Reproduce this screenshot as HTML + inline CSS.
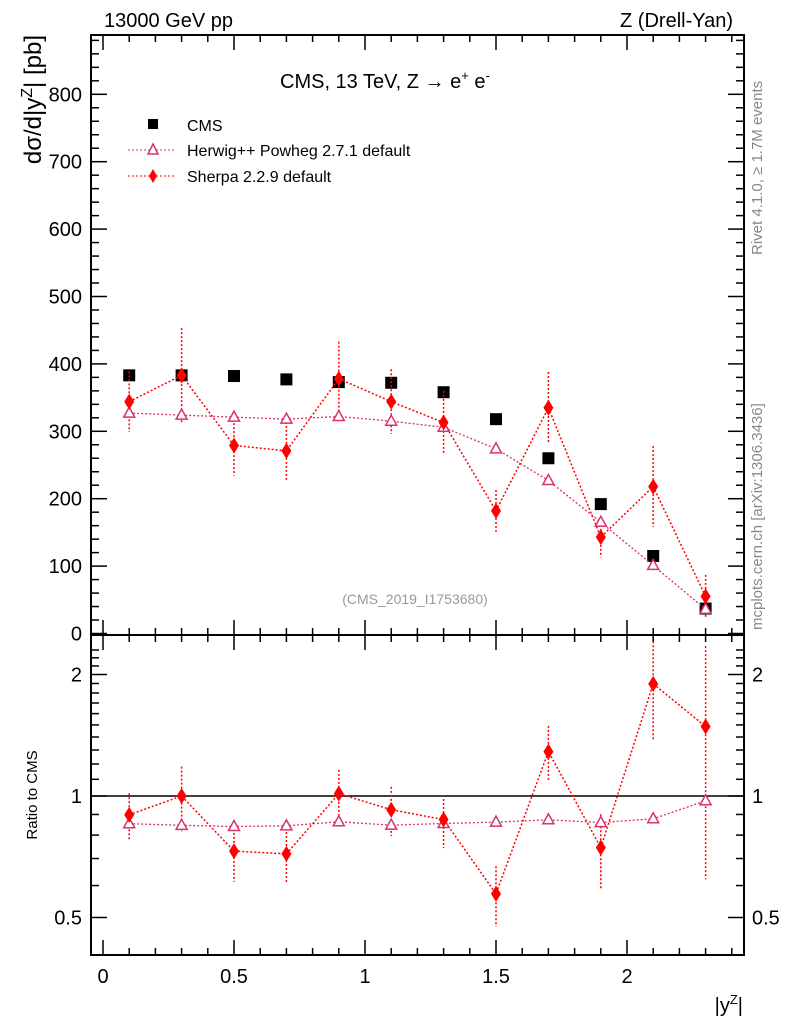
<!DOCTYPE html>
<html><head><meta charset="utf-8"><style>
body{margin:0;background:#fff;}
svg{display:block;font-family:"Liberation Sans",sans-serif;}
</style></head><body>
<svg id="chart" width="786" height="1024" viewBox="0 0 786 1024" xmlns="http://www.w3.org/2000/svg">
<g id="frame"></g>
<g id="marks"></g>
<text x="104" y="27" font-size="20">13000 GeV pp</text>
<text x="733" y="27" font-size="20" text-anchor="end">Z (Drell-Yan)</text>
<text x="280" y="88" font-size="20">CMS, 13 TeV, Z →  e<tspan font-size="13" dy="-8">+</tspan><tspan dy="8"> e</tspan><tspan font-size="13" dy="-8">-</tspan></text>
<text x="415" y="604" font-size="14" fill="#999" text-anchor="middle">(CMS_2019_I1753680)</text>
<text transform="translate(41,35) rotate(-90)" font-size="24" text-anchor="end">dσ/d|y<tspan font-size="16" dy="-9">Z</tspan><tspan dy="9">| [pb]</tspan></text>
<text transform="translate(37,795) rotate(-90)" font-size="15" text-anchor="middle">Ratio to CMS</text>
<text x="743" y="1012" font-size="20" text-anchor="end">|y<tspan font-size="13" dy="-8">Z</tspan><tspan dy="8">|</tspan></text>
<text transform="translate(762,255) rotate(-90)" font-size="15" fill="#888">Rivet 4.1.0, ≥ 1.7M events</text>
<text transform="translate(762,630) rotate(-90)" font-size="15" fill="#888">mcplots.cern.ch [arXiv:1306.3436]</text>
<g id="legend">
<rect x="148" y="119" width="10" height="10" fill="#000"/>
<text x="187" y="131" font-size="16">CMS</text>
<line x1="128" y1="150" x2="176" y2="150" stroke="#d6336c" stroke-dasharray="2,2"/>
<path d="M153,144 L158,154 L148,154 Z" fill="#fff" stroke="#d6336c" stroke-width="1.5"/>
<text x="187" y="156" font-size="16">Herwig++ Powheg 2.7.1 default</text>
<line x1="128" y1="176" x2="176" y2="176" stroke="#f00" stroke-dasharray="2,2"/>
<path d="M153,169 L157,176 L153,183 L149,176 Z" fill="#f00"/>
<text x="187" y="182" font-size="16">Sherpa 2.2.9 default</text>
</g>
</svg>
<script>
const xCenters=[0.1,0.3,0.5,0.7,0.9,1.1,1.3,1.5,1.7,1.9,2.1,2.3];
const cmsValues=[383,383,382,377,373,372,358,318,260,192,115,37];
const herwigValues=[327,324,321,318,322,315,306,274,227,165,101,36];
const sherpaValues=[344,383,279,271,378,344,313,182,335,143,218,55];
const sherpaErrors=[45,70,45,43,55,48,47,31,53,30,60,32];
const yTicks=[0,100,200,300,400,500,600,700,800];
const xTicks=[0,0.5,1,1.5,2];
const ratioTicks=[0.5,1,2];

const NS="http://www.w3.org/2000/svg";
const L=91,R=744,T=35,MB=635,RB=955;
const sx=v=>103+v*262;
const sy=v=>633.5-v*0.674;
const sr=v=>796-Math.log2(v)*121.5;
function mk(tag,attrs,parent){const e=document.createElementNS(NS,tag);for(const k in attrs)e.setAttribute(k,attrs[k]);parent.appendChild(e);return e;}
const frame=document.getElementById('frame'),marks=document.getElementById('marks');

let e;
e=mk('rect',{x:L,y:T,width:R-L,height:MB-T,fill:'none',stroke:'#000','stroke-width':2},frame);


e=mk('rect',{x:L,y:MB,width:R-L,height:RB-MB,fill:'none',stroke:'#000','stroke-width':2},frame);



for(let i=0;i<=24;i++){const v=i/10,x=sx(v),maj=i%5===0,len=maj?15:7;
 [[T,1],[MB,-1],[MB,1],[RB,-1]].forEach(([y0,d])=>{e=mk('line',{x1:x,x2:x,y1:y0,y2:y0+d*len,stroke:'#000','stroke-width':1.5},frame);
 
 });}
xTicks.forEach(v=>{e=mk('text',{x:sx(v),y:983,'font-size':20,'text-anchor':'middle'},frame);e.textContent=String(v);
 
 });
for(let v=0;v<=880;v+=20){const y=sy(v);if(y<T)break;const maj=v%100===0,len=maj?16:8;
 [[L,1],[R,-1]].forEach(([x0,d])=>{e=mk('line',{x1:x0,x2:x0+d*len,y1:y,y2:y,stroke:'#000','stroke-width':1.5},frame);
 
 });}
yTicks.forEach(v=>{e=mk('text',{x:82,y:sy(v)+7,'font-size':20,'text-anchor':'end'},frame);e.textContent=String(v);
 
 });
const rminor=[0.4,0.5,0.6,0.7,0.8,0.9,1,1.1,1.2,1.3,1.4,1.5,1.6,1.7,1.8,1.9,2,2.1,2.2,2.3];
rminor.forEach(v=>{const y=sr(v);if(y<MB||y>RB)return;const maj=ratioTicks.includes(v),len=maj?16:8;
 [[L,1],[R,-1]].forEach(([x0,d])=>{e=mk('line',{x1:x0,x2:x0+d*len,y1:y,y2:y,stroke:'#000','stroke-width':1.5},frame);
 
 });});
ratioTicks.forEach(v=>{[[82,'end'],[752,'start']].forEach(([x,a])=>{e=mk('text',{x:x,y:sr(v)+7,'font-size':20,'text-anchor':a},frame);e.textContent=String(v);
 
 });});
e=mk('line',{x1:L,x2:R,y1:sr(1),y2:sr(1),stroke:'#000','stroke-width':1.5},frame);



function tri(x,y,c){return mk('path',{d:`M${x},${y-6} L${x+5.5},${y+4} L${x-5.5},${y+4} Z`,fill:'#fff',stroke:c,'stroke-width':1.5},marks);}
function dia(x,y){return mk('path',{d:`M${x},${y-8} L${x+5},${y} L${x},${y+8} L${x-5},${y} Z`,fill:'#f00'},marks);}

const cms=cmsValues;
cms.forEach((v,i)=>{e=mk('rect',{x:sx(xCenters[i])-6,y:sy(v)-6,width:12,height:12,fill:'#000'},marks);
 
 });
e=mk('polyline',{points:xCenters.map((x,i)=>sx(x)+','+sy(herwigValues[i])).join(' '),fill:'none',stroke:'#d6336c','stroke-width':1.3,'stroke-dasharray':'2,2'},marks);


e=mk('polyline',{points:xCenters.map((x,i)=>sx(x)+','+sy(sherpaValues[i])).join(' '),fill:'none',stroke:'#f00','stroke-width':1.5,'stroke-dasharray':'2,2'},marks);


xCenters.forEach((x,i)=>{const px=sx(x);
 e=mk('line',{x1:px,x2:px,y1:sy(sherpaValues[i]+sherpaErrors[i]),y2:sy(sherpaValues[i]-sherpaErrors[i]),stroke:'#f00','stroke-width':1.5,'stroke-dasharray':'2,2'},marks);
 
 
 e=tri(px,sy(herwigValues[i]),'#d6336c');
 
 
 e=dia(px,sy(sherpaValues[i]));
 
 });

const clampR=v=>Math.max(MB,Math.min(RB,sr(v)));
e=mk('polyline',{points:xCenters.map((x,i)=>sx(x)+','+sr(herwigValues[i]/cms[i])).join(' '),fill:'none',stroke:'#d6336c','stroke-width':1.3,'stroke-dasharray':'2,2'},marks);


e=mk('polyline',{points:xCenters.map((x,i)=>sx(x)+','+sr(sherpaValues[i]/cms[i])).join(' '),fill:'none',stroke:'#f00','stroke-width':1.5,'stroke-dasharray':'2,2'},marks);


xCenters.forEach((x,i)=>{const px=sx(x);
 e=mk('line',{x1:px,x2:px,y1:clampR((sherpaValues[i]+sherpaErrors[i])/cms[i]),y2:clampR((sherpaValues[i]-sherpaErrors[i])/cms[i]),stroke:'#f00','stroke-width':1.5,'stroke-dasharray':'2,2'},marks);
 
 
 e=tri(px,sr(herwigValues[i]/cms[i]),'#d6336c');
 
 
 e=dia(px,sr(sherpaValues[i]/cms[i]));
 
 });
</script>
</body></html>
